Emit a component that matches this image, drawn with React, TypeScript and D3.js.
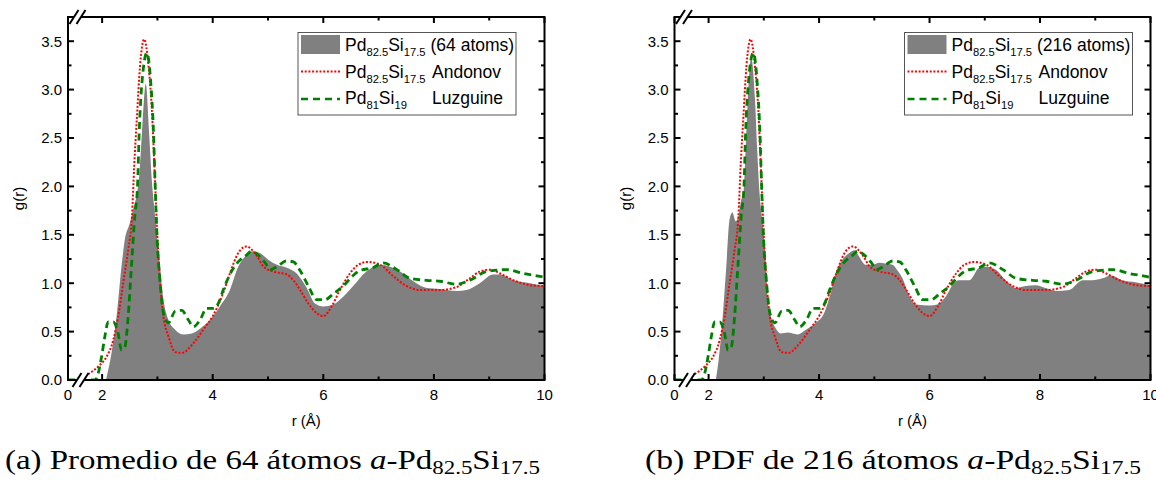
import React from "react";
import * as d3 from "d3";

type P = [number, number];

// r (Å), g(r)
const andonov: P[] = [
  [0, 0], [1.6, 0], [1.72, 0.05], [1.85, 0.1], [1.95, 0.15], [2.08, 0.24], [2.2, 0.41], [2.29, 0.65],
  [2.38, 1.0], [2.47, 1.34], [2.54, 1.69], [2.58, 2.21], [2.63, 2.72], [2.685, 3.24], [2.76, 3.52],
  [2.84, 3.24], [2.9, 2.79], [2.95, 2.15], [2.99, 1.59], [3.05, 1.0], [3.11, 0.65], [3.2, 0.45],
  [3.32, 0.29], [3.44, 0.28], [3.65, 0.38], [3.83, 0.52], [4.01, 0.67], [4.19, 0.9], [4.31, 1.1],
  [4.46, 1.31], [4.61, 1.38], [4.8, 1.28], [4.92, 1.17], [5.1, 1.12], [5.34, 1.09], [5.46, 1.03],
  [5.58, 0.93], [5.73, 0.79], [5.88, 0.69], [6.0, 0.66], [6.15, 0.76], [6.3, 0.93], [6.48, 1.1],
  [6.63, 1.19], [6.81, 1.22], [7.03, 1.19], [7.27, 1.07], [7.51, 0.97], [7.75, 0.93], [8.11, 0.93],
  [8.41, 0.96], [8.65, 1.05], [8.83, 1.12], [9.01, 1.14], [9.2, 1.1], [9.44, 1.03], [9.74, 0.98], [10, 0.97],
];

const luzguine: P[] = [
  [0, 0], [1.6, 0], [1.87, 0], [1.93, 0.07], [1.99, 0.24], [2.05, 0.45], [2.11, 0.6], [2.2, 0.6],
  [2.29, 0.48], [2.35, 0.31], [2.41, 0.34], [2.47, 0.65], [2.53, 1.17], [2.59, 1.69], [2.64, 2.0],
  [2.67, 2.55], [2.72, 3.07], [2.81, 3.38], [2.88, 3.07], [2.93, 2.55], [2.96, 2.0], [2.99, 1.52],
  [3.05, 1.0], [3.11, 0.69], [3.2, 0.59], [3.32, 0.71], [3.44, 0.72], [3.56, 0.62], [3.65, 0.55],
  [3.77, 0.62], [3.89, 0.74], [4.01, 0.74], [4.1, 0.79], [4.19, 0.93], [4.31, 1.09], [4.46, 1.22],
  [4.61, 1.29], [4.7, 1.33], [4.82, 1.29], [4.95, 1.21], [5.04, 1.14], [5.16, 1.17], [5.34, 1.23],
  [5.46, 1.22], [5.58, 1.13], [5.73, 0.97], [5.88, 0.83], [6.03, 0.83], [6.18, 0.89], [6.36, 0.97],
  [6.54, 1.08], [6.66, 1.13], [6.9, 1.16], [7.08, 1.21], [7.33, 1.14], [7.57, 1.05], [7.87, 1.03],
  [8.11, 1.02], [8.41, 0.99], [8.65, 1.03], [8.95, 1.12], [9.32, 1.14], [9.62, 1.1], [9.92, 1.07], [10, 1.06],
];

const sim64: P[] = [
  [2.07, 0], [2.17, 0.28], [2.26, 0.65], [2.35, 1.17], [2.41, 1.45], [2.5, 1.62], [2.56, 1.76],
  [2.62, 1.9], [2.67, 2.1], [2.72, 2.55], [2.79, 3.06], [2.85, 2.55], [2.9, 2.05], [2.94, 1.8],
  [3.02, 1.34], [3.11, 0.83], [3.2, 0.62], [3.32, 0.52], [3.47, 0.47], [3.62, 0.48], [3.77, 0.53],
  [3.95, 0.62], [4.13, 0.76], [4.31, 0.93], [4.46, 1.17], [4.61, 1.29], [4.73, 1.33], [4.86, 1.31],
  [5.01, 1.24], [5.16, 1.19], [5.34, 1.16], [5.52, 1.1], [5.7, 0.95], [5.85, 0.79], [6.0, 0.76],
  [6.18, 0.78], [6.36, 0.86], [6.54, 0.97], [6.78, 1.12], [7.03, 1.19], [7.21, 1.17], [7.39, 1.12],
  [7.63, 1.02], [7.87, 0.95], [8.11, 0.94], [8.41, 0.92], [8.59, 0.93], [8.83, 1.0], [9.07, 1.09],
  [9.2, 1.09], [9.44, 1.03], [9.74, 1.0], [10, 0.97],
];

const sim216: P[] = [
  [2.13, 0], [2.18, 0.2], [2.23, 0.48], [2.32, 1.17], [2.38, 1.66], [2.43, 1.73], [2.49, 1.64],
  [2.53, 1.67], [2.59, 1.86], [2.63, 1.93], [2.67, 2.38], [2.71, 2.9], [2.77, 3.33], [2.84, 2.9],
  [2.88, 2.38], [2.92, 1.95], [2.98, 1.6], [3.04, 1.17], [3.07, 0.83], [3.13, 0.65], [3.22, 0.53],
  [3.31, 0.48], [3.43, 0.49], [3.52, 0.48], [3.61, 0.47], [3.76, 0.52], [3.94, 0.59], [4.09, 0.69],
  [4.21, 0.9], [4.3, 1.1], [4.42, 1.24], [4.54, 1.31], [4.65, 1.34], [4.71, 1.29], [4.85, 1.19],
  [4.97, 1.19], [5.09, 1.21], [5.21, 1.2], [5.33, 1.19], [5.42, 1.13], [5.51, 1.05], [5.64, 0.86],
  [5.76, 0.78], [6.0, 0.77], [6.14, 0.78], [6.29, 0.86], [6.44, 1.0], [6.53, 1.03], [6.72, 1.03],
  [6.9, 1.16], [7.02, 1.17], [7.2, 1.14], [7.38, 1.03], [7.56, 0.95], [7.74, 0.97], [7.92, 0.98],
  [8.1, 0.95], [8.29, 0.92], [8.53, 0.93], [8.77, 1.03], [8.95, 1.03], [9.13, 1.05], [9.28, 1.08],
  [9.49, 1.03], [9.73, 1.01], [10, 0.98],
];

const xMajor = [0, 2, 4, 6, 8, 10];
const xMinor = [3, 5, 7, 9];
const yMajor = [0, 0.5, 1.0, 1.5, 2.0, 2.5, 3.0, 3.5];
const yMinor = [0.25, 0.75, 1.25, 1.75, 2.25, 2.75, 3.25];

const simLabels = ["(64 atoms)", "(216 atoms)"];
const captions = ["(a) Promedio de 64 átomos ", "(b) PDF de 216 átomos "];

const W = 1156;
const H = 480;
const TOP = 17;
const BOTTOM = 380;
const SANS = "'Liberation Sans', Arial, sans-serif";
const SERIF = "'Liberation Serif', 'Times New Roman', serif";
const LEG_FS = 17.5;

const panels = [
  { left: 68, right: 544.5, sim: sim64, label: simLabels[0], caption: captions[0], capX: 5, capW: 535, legW: 218 },
  { left: 674.5, right: 1150.5, sim: sim216, label: simLabels[1], caption: captions[1], capX: 645, capW: 496, legW: 228 },
];

function Formula({ x, y, a, b, size }: { x: number; y: number; a: string; b: string; size: number }) {
  const s = size * 0.64;
  const d = size * 0.3;
  return (
    <text x={x} y={y} fontSize={size} fontFamily={SANS}>
      Pd<tspan fontSize={s} dy={d}>{a}</tspan>
      <tspan dy={-d}>Si</tspan>
      <tspan fontSize={s} dy={d}>{b}</tspan>
    </text>
  );
}

function LegendLabel({ x, y, label }: { x: number; y: number; label: string }) {
  const ref = React.useRef<SVGTextElement>(null);
  const [off, setOff] = React.useState(96);
  React.useEffect(() => {
    const svg = ref.current?.ownerSVGElement;
    if (!svg) return;
    const measure = document.createElementNS("http://www.w3.org/2000/svg", "text");
    measure.setAttribute("font-family", SANS);
    const parts: [string, number][] = [["Pd", LEG_FS], ["82.5", LEG_FS * 0.64], ["Si", LEG_FS], ["17.5", LEG_FS * 0.64]];
    let w = 0;
    parts.forEach(([t, s]) => {
      measure.setAttribute("font-size", String(s));
      measure.textContent = t;
      svg.appendChild(measure);
      w += measure.getComputedTextLength();
      svg.removeChild(measure);
    });
    setOff(w + 5);
  }, []);
  return (
    <text ref={ref} x={x + off} y={y} fontSize={LEG_FS} fontFamily={SANS}>
      {label}
    </text>
  );
}

function Panel({ p }: { p: (typeof panels)[number] }) {
  const x = d3.scaleLinear().domain([0, 1.6, 10]).range([p.left, p.left + 12, p.right]);
  const y = d3.scaleLinear().domain([0, 3.75]).range([BOTTOM, TOP]);
  const area = d3
    .area<P>()
    .x((d) => x(d[0]))
    .y0(y(0))
    .y1((d) => y(d[1]))
    .curve(d3.curveMonotoneX);
  const line = d3
    .line<P>()
    .x((d) => x(d[0]))
    .y((d) => y(d[1]))
    .curve(d3.curveMonotoneX);
  const clipId = `clip${Math.round(p.left)}`;
  const L = p.left;
  const R = p.right;
  const maj = 6;
  const min = 3.5;
  const legX = L + 230;
  const legY = 32.5;
  const brk = (cx: number, cy: number) => {
    const dx = 4.5;
    const dy = 7;
    return (
      <g>
        <polygon
          points={`${cx - dx},${cy + dy} ${cx + dx},${cy - dy} ${cx + 7 + dx},${cy - dy} ${cx + 7 - dx},${cy + dy}`}
          fill="#fff"
        />
        <line x1={cx - dx} y1={cy + dy} x2={cx + dx} y2={cy - dy} stroke="#000" strokeWidth={2} />
        <line x1={cx + 7 - dx} y1={cy + dy} x2={cx + 7 + dx} y2={cy - dy} stroke="#000" strokeWidth={2} />
      </g>
    );
  };
  return (
    <g>
      <defs>
        <clipPath id={clipId}>
          <rect x={L} y={TOP} width={R - L} height={BOTTOM - TOP} />
        </clipPath>
      </defs>
      <g clipPath={`url(#${clipId})`}>
        <path d={area(p.sim) || ""} fill="#808080" />
        <path d={line(andonov) || ""} fill="none" stroke="#ff0000" strokeWidth={2} strokeDasharray="2 1.7" />
        <path d={line(luzguine) || ""} fill="none" stroke="#008000" strokeWidth={2.8} strokeDasharray="7 4.5" />
      </g>
      <rect x={L} y={TOP} width={R - L} height={BOTTOM - TOP} fill="none" stroke="#000" strokeWidth={2} />
      {xMajor.map((v) => (
        <g key={`xm${v}`}>
          <line x1={x(v)} x2={x(v)} y1={BOTTOM} y2={BOTTOM - maj} stroke="#000" strokeWidth={2} />
          <line x1={x(v)} x2={x(v)} y1={TOP} y2={TOP + maj} stroke="#000" strokeWidth={2} />
          <text x={x(v)} y={BOTTOM + 20} fontSize={15} fontFamily={SANS} textAnchor="middle">
            {d3.format("d")(v)}
          </text>
        </g>
      ))}
      {xMinor.map((v) => (
        <g key={`xn${v}`}>
          <line x1={x(v)} x2={x(v)} y1={BOTTOM} y2={BOTTOM - min} stroke="#000" strokeWidth={2} />
          <line x1={x(v)} x2={x(v)} y1={TOP} y2={TOP + min} stroke="#000" strokeWidth={2} />
        </g>
      ))}
      {yMajor.map((v) => (
        <g key={`ym${v}`}>
          <line x1={L} x2={L + maj} y1={y(v)} y2={y(v)} stroke="#000" strokeWidth={2} />
          <line x1={R} x2={R - maj} y1={y(v)} y2={y(v)} stroke="#000" strokeWidth={2} />
          <text x={L - 6} y={y(v) + 5.3} fontSize={15} fontFamily={SANS} textAnchor="end">
            {d3.format(".1f")(v)}
          </text>
        </g>
      ))}
      {yMinor.map((v) => (
        <g key={`yn${v}`}>
          <line x1={L} x2={L + min} y1={y(v)} y2={y(v)} stroke="#000" strokeWidth={2} />
          <line x1={R} x2={R - min} y1={y(v)} y2={y(v)} stroke="#000" strokeWidth={2} />
        </g>
      ))}
      {brk(L + 9, BOTTOM)}
      {brk(L + 6, TOP)}
      <text
        transform={`translate(${L - 44},${(TOP + BOTTOM) / 2}) rotate(-90)`}
        fontSize={15}
        fontFamily={SANS}
        textAnchor="middle"
      >
        g(r)
      </text>
      <text x={(L + R) / 2} y={BOTTOM + 46} fontSize={15} fontFamily={SANS} textAnchor="middle">
        r (Å)
      </text>
      <rect x={legX} y={legY} width={p.legW} height={82.5} fill="#fff" stroke="#555" strokeWidth={1} />
      <rect x={legX + 3} y={legY + 2.5} width={39} height={19} fill="#808080" />
      <Formula x={legX + 47} y={legY + 18.5} a="82.5" b="17.5" size={LEG_FS} />
      <LegendLabel x={legX + 47} y={legY + 18.5} label={p.label} />
      <line x1={legX + 3} x2={legX + 42} y1={legY + 39} y2={legY + 39} stroke="#ff0000" strokeWidth={2} strokeDasharray="2 1.7" />
      <Formula x={legX + 47} y={legY + 45} a="82.5" b="17.5" size={LEG_FS} />
      <text x={legX + 134} y={legY + 45} fontSize={LEG_FS} fontFamily={SANS}>
        Andonov
      </text>
      <line x1={legX + 3} x2={legX + 42} y1={legY + 66.5} y2={legY + 66.5} stroke="#008000" strokeWidth={2.5} strokeDasharray="7 5" />
      <Formula x={legX + 47} y={legY + 71} a="81" b="19" size={LEG_FS} />
      <text x={legX + 134} y={legY + 71} fontSize={LEG_FS} fontFamily={SANS}>
        Luzguine
      </text>
      <text
        x={p.capX}
        y={469}
        fontSize={28}
        fontFamily={SERIF}
        textLength={p.capW}
        lengthAdjust="spacingAndGlyphs"
      >
        {p.caption}
        <tspan fontStyle="italic">a</tspan>-Pd
        <tspan fontSize={19.5} dy={4.5}>82.5</tspan>
        <tspan dy={-4.5}>Si</tspan>
        <tspan fontSize={19.5} dy={4.5}>17.5</tspan>
      </text>
    </g>
  );
}

export default function App() {
  return (
    <svg
      width={W}
      height={H}
      viewBox={`0 0 ${W} ${H}`}
      style={{ position: "absolute", left: 0, top: 0, background: "#fff" }}
    >
      <rect x={0} y={0} width={W} height={H} fill="#fff" />
      {panels.map((p) => (
        <Panel key={p.left} p={p} />
      ))}
    </svg>
  );
}
